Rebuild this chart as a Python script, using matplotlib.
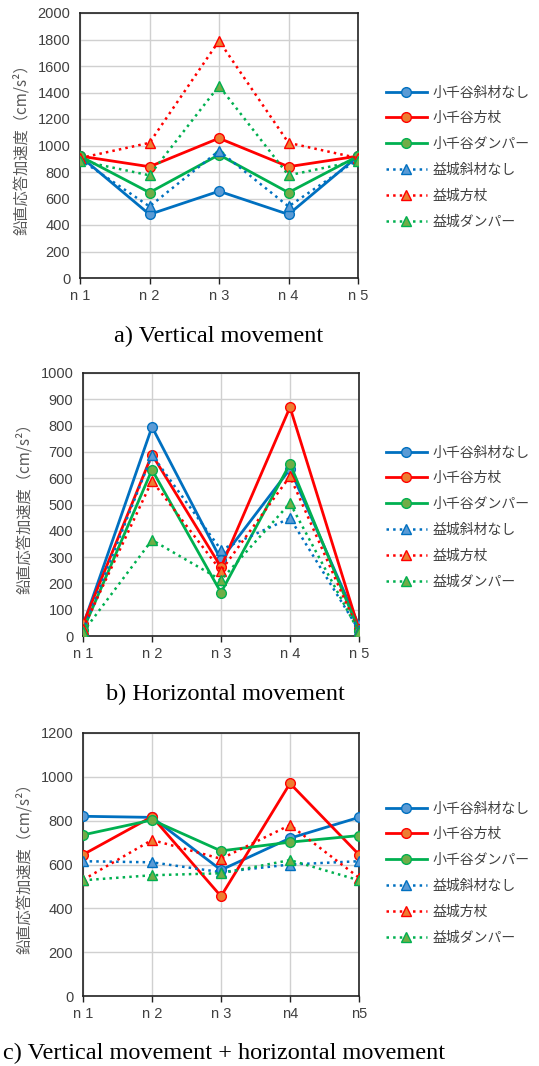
import numpy as np
import matplotlib.pyplot as plt

plt.rcParams['font.family'] = ['Liberation Sans', 'Noto Sans CJK JP', 'DejaVu Sans']

# data
points_a = ['n 1', 'n 2', 'n 3', 'n 4', 'n 5']
points_b = ['n 1', 'n 2', 'n 3', 'n 4', 'n 5']
points_c = ['n 1', 'n 2', 'n 3', 'n4', 'n5']

series_names = ['小千谷斜材なし', '小千谷方杖', '小千谷ダンパー',
                '益城斜材なし', '益城方杖', '益城ダンパー']

# a) vertical movement
vert = [
    [920, 480, 655, 480, 920],
    [920, 840, 1055, 840, 920],
    [920, 645, 930, 645, 920],
    [895, 540, 960, 540, 895],
    [905, 1020, 1790, 1020, 905],
    [885, 775, 1450, 775, 885],
]

# b) horizontal movement
horiz = [
    [40, 795, 290, 635, 40],
    [45, 690, 262, 870, 25],
    [22, 632, 165, 655, 20],
    [22, 688, 328, 448, 22],
    [28, 590, 248, 607, 15],
    [15, 365, 213, 505, 15],
]

# c) vertical + horizontal
both = [
    [820, 815, 575, 720, 815],
    [645, 818, 455, 970, 645],
    [735, 803, 662, 702, 732],
    [615, 610, 565, 600, 615],
    [530, 712, 626, 780, 540],
    [528, 551, 560, 620, 528],
]

line_cols = ['#0070c0', '#ff0000', '#00b050'] * 2
face_cols = ['#5b9bd5', '#ed7d31', '#70ad47'] * 2
styles = ['-'] * 3 + [':'] * 3
markers = ['o'] * 3 + ['^'] * 3

W, H = 539, 1066
fig = plt.figure(figsize=(W / 100, H / 100), dpi=100)


def px_box(x0, x1, y0, y1):
    return [x0 / W, 1 - y1 / H, (x1 - x0) / W, (y1 - y0) / H]


def panel(rect, data, labels, ymax, ystep, legend_top, title, title_xy):
    ax = fig.add_axes(rect)
    x = np.arange(len(labels))
    for i, vals in enumerate(data):
        lw = 2.0 if styles[i] == '-' else 1.8
        ax.plot(x, vals, linestyle=styles[i], color=line_cols[i], lw=lw,
                marker=markers[i], ms=7, mfc=face_cols[i], mec=line_cols[i],
                mew=1.0, label=series_names[i], zorder=3 + i)
    ax.set_xlim(0, len(labels) - 1)
    ax.set_ylim(0, ymax)
    ax.set_yticks(np.arange(0, ymax + 1, ystep))
    ax.set_xticks(x)
    ax.set_xticklabels(labels)
    ax.grid(True, color='#d0d0d0', lw=1.0, zorder=0)
    ax.set_axisbelow(True)
    for s in ax.spines.values():
        s.set_color('#222222')
        s.set_linewidth(1.2)
    ax.tick_params(axis='y', length=0, labelsize=10.5, labelcolor='#404040', pad=7)
    ax.tick_params(axis='x', length=4, width=1.0, labelsize=10.5,
                   labelcolor='#404040', pad=4, color='#222222')
    ax.set_ylabel('鉛直応答加速度（cm/s²）', family=['Noto Sans CJK JP', 'DejaVu Sans'],
                  fontsize=11, color='#595959', labelpad=5)
    ax.legend(loc='upper left', bbox_to_anchor=(373 / W, 1 - legend_top / H),
              bbox_transform=fig.transFigure, frameon=False,
              prop={'family': ['Noto Sans CJK JP', 'DejaVu Sans'], 'size': 10},
              handlelength=3.0, handletextpad=0.4, labelspacing=0.85,
              labelcolor='#404040')
    fig.text(title_xy[0] / W, 1 - title_xy[1] / H, title, ha='center', va='center',
             family='Liberation Serif', fontsize=17.5)
    return ax


panel(px_box(80, 358, 13, 278), vert, points_a, 2000, 200, 73,
      'a) Vertical movement', (219, 336))
panel(px_box(83, 359, 373, 636), horiz, points_b, 1000, 100, 433,
      'b) Horizontal movement', (225, 694))
panel(px_box(83, 359, 733, 996), both, points_c, 1200, 200, 789,
      'c) Vertical movement + horizontal movement', (224, 1053))

fig.savefig('out.png', dpi=100)
